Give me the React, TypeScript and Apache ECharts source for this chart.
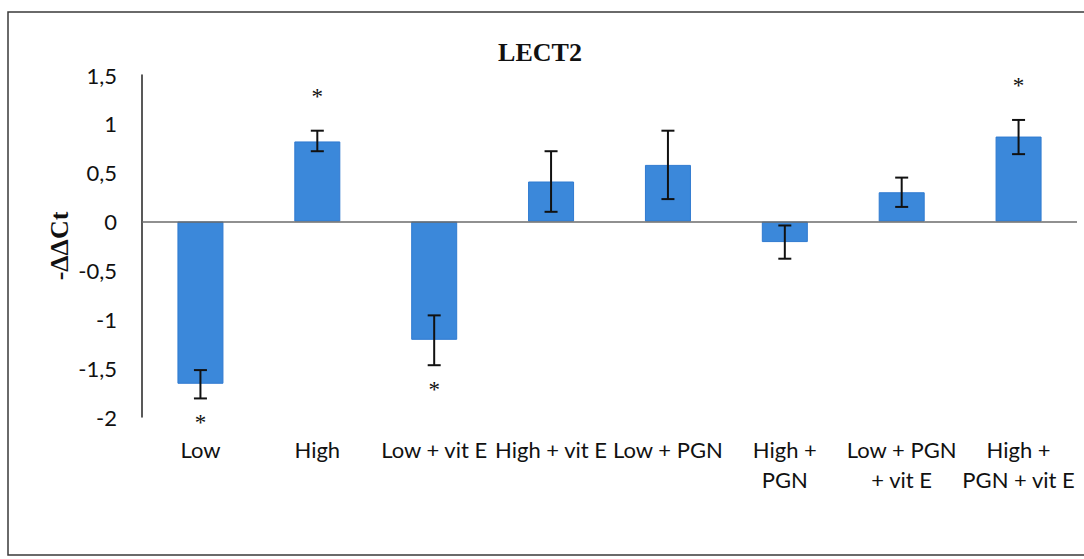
import React, { useEffect, useRef } from "react";
import * as echarts from "echarts";

// Treatment groups (x-axis)
const categories = [
  "Low",
  "High",
  "Low + vit E",
  "High + vit E",
  "Low + PGN",
  "High +\nPGN",
  "Low + PGN\n+ vit E",
  "High +\nPGN + vit E",
];

// Mean -ΔΔCt per group
const meanValues = [-1.66, 0.82, -1.21, 0.41, 0.58, -0.21, 0.3, 0.87];
// Error bar bounds
const errLower = [-1.81, 0.72, -1.47, 0.1, 0.23, -0.38, 0.15, 0.69];
const errUpper = [-1.52, 0.93, -0.96, 0.72, 0.93, -0.04, 0.45, 1.04];
// Statistically significant groups (marked with *)
const significant = [true, true, true, false, false, false, false, true];

const yTicks = { min: -2, max: 1.5, interval: 0.5 };

const LABEL_FONT = "Lato, 'Open Sans', sans-serif";
const SERIF = "'Liberation Serif', 'DejaVu Serif', serif";

export default function App() {
  const ref = useRef<HTMLDivElement>(null);

  useEffect(() => {
    if (!ref.current) return;
    const chart = echarts.init(ref.current, undefined, { renderer: "svg" });

    const errData = categories.map((_, i) => [i, errLower[i], errUpper[i], meanValues[i] >= 0 ? 1 : -1, significant[i] ? 1 : 0]);

    chart.setOption({
      animation: false,
      backgroundColor: "#ffffff",
      title: {
        text: "LECT2",
        left: 535,
        top: 34,
        textAlign: "center",
        textStyle: { fontFamily: SERIF, fontWeight: "bold", fontSize: 26, color: "#111" },
      },
      graphic: [
        {
          type: "rect",
          shape: { x: 8, y: 12, width: 1090, height: 543 },
          style: { fill: "none", stroke: "#3a3a3a", lineWidth: 1.5 },
          silent: true,
        },
        {
          type: "text",
          x: 59,
          y: 246,
          rotation: Math.PI / 2,
          style: {
            text: "-ΔΔCt",
            font: `bold 26px ${SERIF}`,
            fill: "#111",
            align: "center",
            verticalAlign: "middle",
          },
        },
      ],
      grid: { left: 142, right: 7, top: 75, bottom: 142 },
      xAxis: {
        type: "category",
        data: categories,
        axisLine: { show: false },
        axisTick: { show: false },
        axisLabel: {
          interval: 0,
          margin: 17,
          fontFamily: LABEL_FONT,
          fontSize: 22,
          lineHeight: 30,
          color: "#111",
        },
      },
      yAxis: {
        type: "value",
        min: yTicks.min,
        max: yTicks.max,
        interval: yTicks.interval,
        splitLine: { show: false },
        axisTick: { show: false },
        axisLine: { show: true, lineStyle: { color: "#222", width: 1.5 } },
        axisLabel: {
          margin: 25,
          fontFamily: LABEL_FONT,
          fontSize: 22,
          color: "#111",
          formatter: (v: number) => String(v).replace(".", ","),
        },
      },
      series: [
        {
          type: "bar",
          data: meanValues,
          barWidth: 46,
          itemStyle: { color: "#3b88da", borderColor: "#2f7ad0", borderWidth: 1 },
          markLine: {
            silent: true,
            symbol: "none",
            label: { show: false },
            lineStyle: { color: "#6b6b6b", width: 1.5, type: "solid" },
            data: [{ yAxis: 0 }],
          },
          z: 2,
        },
        {
          type: "custom",
          data: errData,
          z: 5,
          renderItem: (params: any, api: any) => {
            const i = api.value(0);
            const lo = api.coord([i, api.value(1)]);
            const hi = api.coord([i, api.value(2)]);
            const dir = api.value(3);
            const sig = api.value(4);
            const half = 6.5;
            const style = { stroke: "#111", lineWidth: 2 };
            const children: any[] = [
              { type: "line", shape: { x1: lo[0], y1: lo[1], x2: hi[0], y2: hi[1] }, style },
              { type: "line", shape: { x1: lo[0] - half, y1: lo[1], x2: lo[0] + half, y2: lo[1] }, style },
              { type: "line", shape: { x1: hi[0] - half, y1: hi[1], x2: hi[0] + half, y2: hi[1] }, style },
            ];
            if (sig) {
              const end = dir > 0 ? hi : lo;
              children.push({
                type: "text",
                x: end[0],
                y: end[1] + (dir > 0 ? -34 : 24),
                style: {
                  text: "*",
                  font: `23px ${SERIF}`,
                  fill: "#111",
                  align: "center",
                  verticalAlign: "middle",
                },
              });
            }
            return { type: "group", children };
          },
        },
      ],
    });

    return () => chart.dispose();
  }, []);

  return (
    <div
      ref={ref}
      style={{ position: "fixed", left: 0, top: 0, width: 1084, height: 559, background: "#fff" }}
    />
  );
}
